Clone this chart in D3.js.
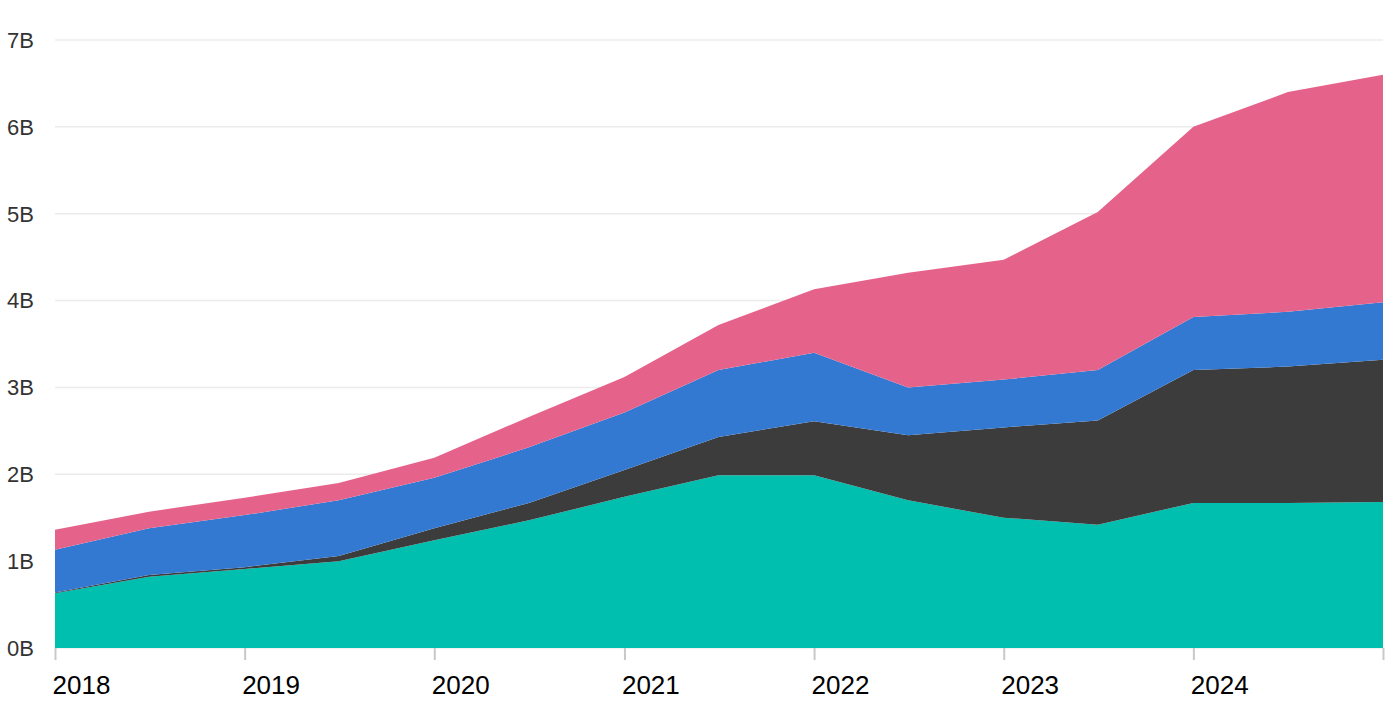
<!doctype html>
<html lang="en">
<head>
    <meta charset="UTF-8">
    <title>Stacked area</title>
    <script src="https://cdnjs.cloudflare.com/ajax/libs/d3/7.8.5/d3.min.js"></script>
    <style>
        body { margin: 0; background: #fff; }
        svg text { font-family: "Liberation Sans", Arial, Helvetica, sans-serif; }
    </style>
</head>
<body>
<svg id="chart" width="1400" height="713"></svg>

<script>
    // half-yearly points, last one at year end 2024
    var dates = ['2018-01-01', '2018-07-01', '2019-01-01', '2019-07-01', '2020-01-01', '2020-07-01',
        '2021-01-01', '2021-07-01', '2022-01-01', '2022-07-01', '2023-01-01', '2023-07-01',
        '2024-01-01', '2024-07-01', '2024-12-31'];

    // values in billions, bottom layer first
    var teal = [0.63, 0.82, 0.91, 1.00, 1.24, 1.47, 1.74, 1.99, 1.99, 1.70, 1.50, 1.42, 1.67, 1.67, 1.68];
    var dark = [0.01, 0.02, 0.02, 0.06, 0.14, 0.20, 0.31, 0.44, 0.62, 0.75, 1.04, 1.20, 1.53, 1.57, 1.64];
    var blue = [0.49, 0.54, 0.60, 0.64, 0.58, 0.64, 0.66, 0.77, 0.79, 0.55, 0.55, 0.58, 0.61, 0.63, 0.66];
    var pink = [0.23, 0.19, 0.20, 0.20, 0.23, 0.35, 0.41, 0.52, 0.73, 1.32, 1.38, 1.82, 2.19, 2.53, 2.62];

    var seriesKeys = ['teal', 'dark', 'blue', 'pink'];
    var seriesColors = ['#00bfae', '#3d3c3d', '#3479d1', '#e5638b'];

    var yTicks = [0, 1, 2, 3, 4, 5, 6, 7];
    var xTickYears = [2018, 2019, 2020, 2021, 2022, 2023, 2024];

    var parse = d3.timeParse('%Y-%m-%d');
    var rows = dates.map(function (d, i) {
        return {date: parse(d), teal: teal[i], dark: dark[i], blue: blue[i], pink: pink[i]};
    });

    var svg = d3.select('#chart');
    var plotLeft = 55, plotRight = 1383, plotTop = 40, plotBottom = 648;

    var x = d3.scaleTime()
        .domain([new Date(2018, 0, 1), new Date(2024, 11, 31)])
        .range([plotLeft, plotRight]);
    var y = d3.scaleLinear().domain([0, 7]).range([plotBottom, plotTop]);

    // grid + y labels
    svg.append('g')
        .selectAll('line')
        .data(yTicks)
        .enter()
        .append('line')
        .attr('x1', plotLeft)
        .attr('x2', plotRight)
        .attr('y1', function (d) { return y(d); })
        .attr('y2', function (d) { return y(d); })
        .attr('stroke', '#ececec')
        .attr('stroke-width', 1.5);

    svg.append('g')
        .selectAll('text')
        .data(yTicks)
        .enter()
        .append('text')
        .attr('x', 7)
        .attr('y', function (d) { return y(d); })
        .attr('dy', '0.36em')
        .attr('font-size', '22px')
        .attr('fill', '#333')
        .text(function (d) { return d + 'B'; });

    var stack = d3.stack().keys(seriesKeys);
    var layers = stack(rows);

    var area = d3.area()
        .x(function (d) { return x(d.data.date); })
        .y0(function (d) { return y(d[0]); })
        .y1(function (d) { return y(d[1]); });

    svg.append('g')
        .selectAll('path')
        .data(layers)
        .enter()
        .append('path')
        .attr('d', area)
        .attr('fill', function (d, i) { return seriesColors[i]; });

    // x axis
    var xTickDates = xTickYears.map(function (yr) { return new Date(yr, 0, 1); });
    var xAxis = d3.axisBottom(x)
        .tickValues(xTickDates.concat([new Date(2024, 11, 31)]))
        .tickSize(12)
        .tickFormat(function (d) {
            return d.getMonth() === 0 && d.getDate() === 1 ? d3.timeFormat('%Y')(d) : '';
        });

    var gx = svg.append('g')
        .attr('transform', 'translate(0,' + plotBottom + ')')
        .call(xAxis);
    gx.select('.domain').remove();
    gx.selectAll('.tick line').attr('stroke', '#c8c8c8').attr('stroke-width', 2);
    gx.selectAll('.tick text')
        .attr('text-anchor', 'start')
        .attr('x', -3)
        .attr('y', 46)
        .attr('dy', '0')
        .attr('font-size', '26px')
        .attr('fill', '#000')
        .style('font-family', '"Liberation Sans", Arial, sans-serif');
</script>
</body>
</html>
